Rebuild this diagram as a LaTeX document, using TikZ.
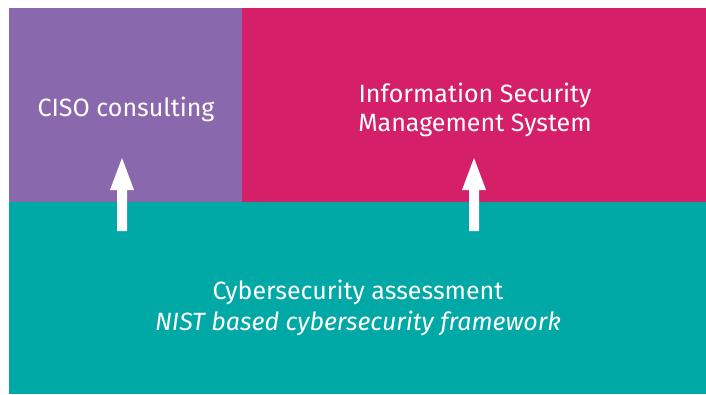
\documentclass[tikz,border=0pt]{standalone}
\usepackage{fontspec}
\setmainfont{Fira Sans}
\definecolor{cpurple}{HTML}{8A68AE}
\definecolor{cpink}{HTML}{D51F68}
\definecolor{cteal}{HTML}{00A8A6}
\begin{document}
\begin{tikzpicture}[x=1pt,y=-1pt,
  lbl/.style={text=white, font=\fontsize{25}{29}\selectfont, align=center},
  uparrow/.style={fill=white, draw=none}]
\useasboundingbox (0,0) rectangle (706,394);
\fill[white] (0,0) rectangle (706,394);
\fill[cpurple] (9,8) rectangle (242,202);
\fill[cpink] (242,8) rectangle (706,202);
\fill[cteal] (9,202) rectangle (706,394);
\node[lbl] (ciso) at (126,109) {CISO consulting};
\node[lbl] (isms) at (475,110) {Information Security\\Management System};
\node[lbl, font=\fontsize{25}{31}\selectfont] (cyber) at (358,308) {Cybersecurity assessment\\\itshape NIST based cybersecurity framework};
\coordinate (a1) at (122,231);
\coordinate (a2) at (474,231);
\foreach \c in {a1,a2} {
  \fill[uparrow] ([xshift=-5pt]\c) -- ([xshift=-5pt,yshift=41pt]\c) -- ([xshift=-12pt,yshift=41pt]\c)
     -- ([yshift=73pt]\c) -- ([xshift=12pt,yshift=41pt]\c) -- ([xshift=5pt,yshift=41pt]\c) -- ([xshift=5pt]\c) -- cycle;
}
\end{tikzpicture}
\end{document}
